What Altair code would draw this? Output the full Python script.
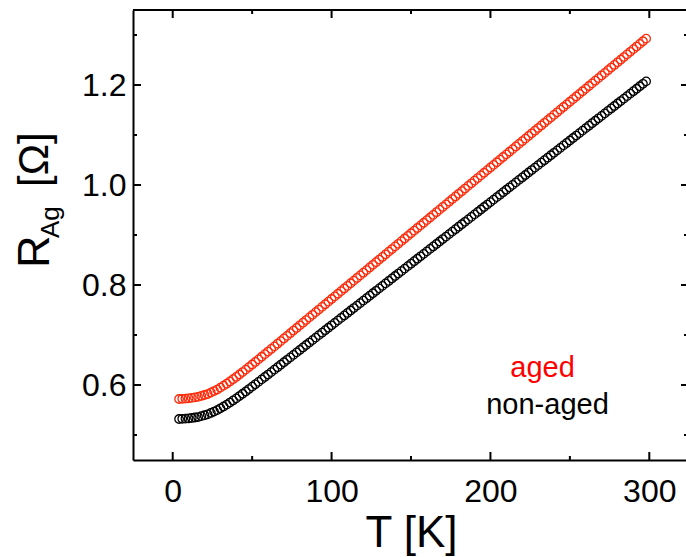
import altair as alt
import pandas as pd

# ---------------- data ----------------
T = [4, 6, 8, 10, 12, 14, 16, 18, 20, 22, 24, 26, 28, 30, 32, 34, 36, 38, 40, 42,
     44, 46, 48, 50, 52, 54, 56, 58, 60, 62, 64, 66, 68, 70, 72, 74, 76, 78, 80, 82,
     84, 86, 88, 90, 92, 94, 96, 98, 100, 102, 104, 106, 108, 110, 112, 114, 116, 118, 120, 122,
     124, 126, 128, 130, 132, 134, 136, 138, 140, 142, 144, 146, 148, 150, 152, 154, 156, 158, 160, 162,
     164, 166, 168, 170, 172, 174, 176, 178, 180, 182, 184, 186, 188, 190, 192, 194, 196, 198, 200, 202,
     204, 206, 208, 210, 212, 214, 216, 218, 220, 222, 224, 226, 228, 230, 232, 234, 236, 238, 240, 242,
     244, 246, 248, 250, 252, 254, 256, 258, 260, 262, 264, 266, 268, 270, 272, 274, 276, 278, 280, 282,
     284, 286, 288, 290, 292, 294, 296, 298]

R_AGED = [0.5720, 0.5724, 0.5728, 0.5732, 0.5742, 0.5752, 0.5762, 0.5781, 0.5800, 0.5819,
          0.5849, 0.5879, 0.5909, 0.5948, 0.5987, 0.6026, 0.6071, 0.6116, 0.6161, 0.6210,
          0.6259, 0.6308, 0.6359, 0.6410, 0.6461, 0.6513, 0.6565, 0.6617, 0.6669, 0.6721,
          0.6773, 0.6826, 0.6878, 0.6931, 0.6983, 0.7036, 0.7089, 0.7141, 0.7194, 0.7246,
          0.7299, 0.7352, 0.7404, 0.7457, 0.7509, 0.7562, 0.7615, 0.7667, 0.7720, 0.7772,
          0.7825, 0.7878, 0.7930, 0.7983, 0.8035, 0.8088, 0.8141, 0.8193, 0.8246, 0.8298,
          0.8351, 0.8404, 0.8456, 0.8509, 0.8561, 0.8614, 0.8667, 0.8719, 0.8772, 0.8824,
          0.8877, 0.8930, 0.8982, 0.9035, 0.9087, 0.9140, 0.9193, 0.9245, 0.9298, 0.9350,
          0.9403, 0.9456, 0.9508, 0.9561, 0.9613, 0.9666, 0.9719, 0.9771, 0.9824, 0.9876,
          0.9929, 0.9982, 1.0034, 1.0087, 1.0139, 1.0192, 1.0245, 1.0297, 1.0350, 1.0402,
          1.0455, 1.0508, 1.0560, 1.0613, 1.0665, 1.0718, 1.0771, 1.0823, 1.0876, 1.0928,
          1.0981, 1.1034, 1.1086, 1.1139, 1.1191, 1.1244, 1.1297, 1.1349, 1.1402, 1.1454,
          1.1507, 1.1560, 1.1612, 1.1665, 1.1717, 1.1770, 1.1823, 1.1875, 1.1928, 1.1980,
          1.2033, 1.2086, 1.2138, 1.2191, 1.2243, 1.2296, 1.2349, 1.2401, 1.2454, 1.2506,
          1.2559, 1.2612, 1.2664, 1.2717, 1.2769, 1.2822, 1.2875, 1.2927]

R_NONAGED = [0.5320, 0.5324, 0.5328, 0.5331, 0.5341, 0.5350, 0.5359, 0.5377, 0.5395, 0.5413,
             0.5441, 0.5469, 0.5497, 0.5534, 0.5570, 0.5607, 0.5649, 0.5691, 0.5733, 0.5779,
             0.5825, 0.5871, 0.5919, 0.5967, 0.6014, 0.6063, 0.6112, 0.6161, 0.6209, 0.6258,
             0.6307, 0.6356, 0.6406, 0.6455, 0.6504, 0.6553, 0.6603, 0.6652, 0.6701, 0.6751,
             0.6800, 0.6849, 0.6898, 0.6948, 0.6997, 0.7046, 0.7096, 0.7145, 0.7194, 0.7243,
             0.7293, 0.7342, 0.7391, 0.7441, 0.7490, 0.7539, 0.7588, 0.7638, 0.7687, 0.7736,
             0.7786, 0.7835, 0.7884, 0.7933, 0.7983, 0.8032, 0.8081, 0.8131, 0.8180, 0.8229,
             0.8278, 0.8328, 0.8377, 0.8426, 0.8476, 0.8525, 0.8574, 0.8623, 0.8673, 0.8722,
             0.8771, 0.8820, 0.8870, 0.8919, 0.8968, 0.9018, 0.9067, 0.9116, 0.9166, 0.9215,
             0.9264, 0.9313, 0.9363, 0.9412, 0.9461, 0.9510, 0.9560, 0.9609, 0.9658, 0.9708,
             0.9757, 0.9806, 0.9856, 0.9905, 0.9954, 1.0003, 1.0053, 1.0102, 1.0151, 1.0200,
             1.0250, 1.0299, 1.0348, 1.0398, 1.0447, 1.0496, 1.0546, 1.0595, 1.0644, 1.0693,
             1.0743, 1.0792, 1.0841, 1.0890, 1.0940, 1.0989, 1.1038, 1.1088, 1.1137, 1.1186,
             1.1236, 1.1285, 1.1334, 1.1383, 1.1433, 1.1482, 1.1531, 1.1580, 1.1630, 1.1679,
             1.1728, 1.1778, 1.1827, 1.1876, 1.1925, 1.1975, 1.2024, 1.2073]

SERIES = ["aged", "non-aged"]
COLORS = ["#ff2a0a", "#000000"]
LEGEND_COLORS = ["#ff0000", "#000000"]

X_MAJOR = [0, 100, 200, 300]
X_MINOR = [50, 150, 250]
Y_MAJOR = [0.6, 0.8, 1.0, 1.2]
Y_MINOR = [0.5, 0.7, 0.9, 1.1, 1.3]

X_TITLE = "T [K]"
Y_TITLE_MAIN = "R"
Y_TITLE_SUB = "Ag"
Y_TITLE_UNIT = "[\u03a9]"

# ---------------- chart ----------------
W, H = 553, 450
FONT = "Liberation Sans"
xs = alt.Scale(domain=[-25, 323.1], nice=False, zero=False)
ys = alt.Scale(domain=[0.45, 1.35], nice=False, zero=False)

xaxis = alt.Axis(
    values=X_MAJOR, format="d", grid=False, ticks=False, tickSize=0,
    labelFontSize=32, labelFont=FONT, labelColor="black", labelPadding=16,
    domain=True, domainColor="black", domainWidth=2,
    title=X_TITLE, titleFont=FONT,
    titleFontSize=44, titleFontWeight="normal", titleColor="black",
    titleBaseline="alphabetic", titleAlign="center", titleX=278, titleY=86)
yaxis = alt.Axis(
    values=Y_MAJOR, format=".1f", grid=False, ticks=False, tickSize=0,
    labelFontSize=32, labelFont=FONT, labelColor="black", labelPadding=7,
    domain=True, domainColor="black", domainWidth=2, title=None)

df = pd.DataFrame({
    "T": T + T,
    "R": R_AGED + R_NONAGED,
    "series": [SERIES[0]] * len(T) + [SERIES[1]] * len(T),
})

points = alt.Chart(df).mark_point(
    shape="circle", filled=False, size=72, strokeWidth=1.3, opacity=1
).encode(
    x=alt.X("T:Q", scale=xs, axis=xaxis),
    y=alt.Y("R:Q", scale=ys, axis=yaxis),
    color=alt.Color("series:N", scale=alt.Scale(domain=SERIES, range=COLORS), legend=None),
)


def xticks(vals, y0, y1):
    return alt.Chart(pd.DataFrame({"T": vals})).mark_rule(color="black", strokeWidth=2).encode(
        x=alt.X("T:Q", scale=xs, axis=xaxis), y=alt.value(y0), y2=alt.value(y1))


def yticks(vals, x0, x1):
    return alt.Chart(pd.DataFrame({"R": vals})).mark_rule(color="black", strokeWidth=2).encode(
        y=alt.Y("R:Q", scale=ys, axis=yaxis), x=alt.value(x0), x2=alt.value(x1))


ticks = [
    xticks(X_MAJOR, H, H - 8), xticks(X_MINOR, H, H - 4),
    xticks(X_MAJOR, 0, 8), xticks(X_MINOR, 0, 4),
    yticks(Y_MAJOR, 0, 8), yticks(Y_MINOR, 0, 4),
    yticks(Y_MAJOR, W, W - 5), yticks(Y_MINOR, W, W - 2),
]

one = pd.DataFrame({"a": [0]})

top_line = alt.Chart(one).mark_rule(color="black", strokeWidth=2).encode(
    x=alt.value(0), x2=alt.value(W), y=alt.value(0))


def label(text, x, y, size, color="black", angle=0, align="center"):
    kw = dict(text=text, font=FONT, fontSize=size, color=color, align=align, baseline="alphabetic")
    if angle:
        kw["angle"] = angle
    return alt.Chart(one).mark_text(**kw).encode(x=alt.value(x), y=alt.value(y))


texts = [
    label(SERIES[0], 409.5, 367, 29, LEGEND_COLORS[0]),
    label(SERIES[1], 414.5, 404, 29, LEGEND_COLORS[1]),
    label(Y_TITLE_MAIN, -84, 258, 45, angle=270, align="left"),
    label(Y_TITLE_SUB, -74, 228, 26, angle=270, align="left"),
    label(Y_TITLE_UNIT, -85, 177, 42, angle=270, align="left"),
]

chart = alt.layer(points, *ticks, top_line, *texts).properties(
    width=W, height=H,
    autosize=alt.AutoSizeParams(type="none"),
    padding={"left": 133, "top": 10, "right": 0, "bottom": 97},
).configure_view(stroke="transparent")

chart.save("out.html", embed_options={"renderer": "svg", "actions": False})
